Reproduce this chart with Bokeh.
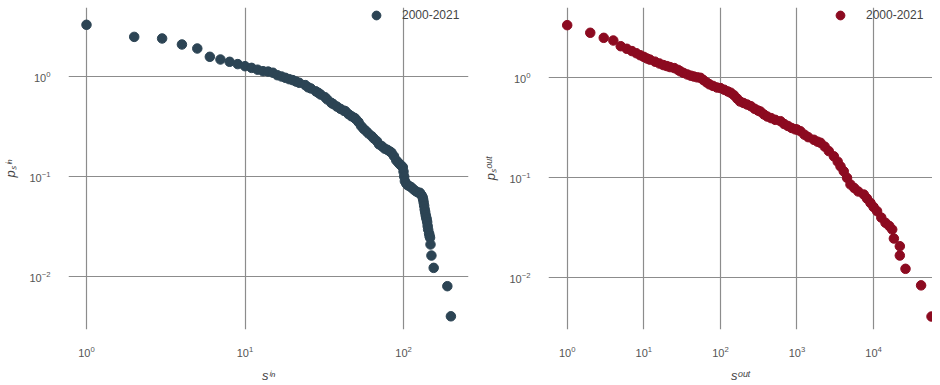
from bokeh.plotting import figure
from bokeh.layouts import row
from bokeh.models import Range1d, Legend
from bokeh.embed import file_html
from bokeh.resources import INLINE

# ---- data ----
s_in = [1, 2, 3, 4, 5, 6, 7, 8, 9, 10, 11, 12, 13, 14, 15, 16, 17, 18, 19, 20,
        21, 22, 24, 25, 26, 28, 29, 30, 32, 33, 35, 36, 38, 40, 42, 43, 45, 47,
        49, 50, 52, 54, 56, 58, 60, 63, 65, 68, 70, 73, 76, 79, 82, 84, 87, 90,
        93, 95, 97, 99, 100, 101, 102, 104, 106, 109, 112, 116, 120, 124, 127,
        130, 132, 133, 134, 135, 136, 137, 138, 139, 140, 141, 142, 143, 145,
        146, 147, 148, 150, 155, 189, 199]
p_in = [3.29, 2.49, 2.40, 2.09, 1.905, 1.574, 1.479, 1.403, 1.33, 1.268, 1.22,
        1.17, 1.13, 1.12, 1.09, 1.03, 1.00, 0.97, 0.94, 0.92, 0.89, 0.865, 0.82,
        0.78, 0.76, 0.71, 0.687, 0.66, 0.62, 0.59, 0.546, 0.53, 0.50, 0.475,
        0.455, 0.45, 0.42, 0.40, 0.386, 0.375, 0.35, 0.32, 0.30, 0.285, 0.27,
        0.253, 0.24, 0.225, 0.21, 0.201, 0.19, 0.185, 0.178, 0.173, 0.16, 0.145,
        0.137, 0.132, 0.128, 0.124, 0.112, 0.100, 0.090, 0.085, 0.082, 0.080,
        0.078, 0.074, 0.071, 0.069, 0.0687, 0.065, 0.062, 0.0589, 0.055, 0.051,
        0.0468, 0.044, 0.041, 0.039, 0.0372, 0.035, 0.032, 0.0295, 0.027,
        0.0255, 0.0244, 0.0209, 0.0162, 0.0122, 0.0080, 0.0040]

s_out = [1, 2, 3, 4, 5, 6, 7, 8, 9, 10, 11, 12, 14, 16, 18, 20, 22, 25, 28, 30,
         33, 37, 41, 45, 50, 55, 60, 66, 72, 80, 90, 100, 112, 125, 136, 150,
         165, 180, 200, 224, 250, 280, 310, 333, 370, 410, 460, 520, 609, 680,
         760, 850, 950, 1000, 1110, 1250, 1400, 1660, 1850, 2030, 2300, 2600,
         3030, 3400, 3700, 4080, 4500, 4990, 5600, 6300, 7460, 8200, 9110,
         10000, 11100, 12600, 14300, 16000, 17500, 18400, 22000, 22000, 26100,
         41700, 57000]
p_out = [3.36, 2.82, 2.51, 2.36, 2.07, 1.95, 1.85, 1.76, 1.68, 1.62, 1.56, 1.52,
         1.45, 1.39, 1.34, 1.31, 1.28, 1.25, 1.20, 1.16, 1.12, 1.08, 1.05, 1.03,
         1.01, 1.00, 0.95, 0.90, 0.86, 0.83, 0.80, 0.79, 0.76, 0.73, 0.71, 0.67,
         0.62, 0.58, 0.56, 0.54, 0.52, 0.49, 0.47, 0.46, 0.43, 0.41, 0.395,
         0.38, 0.368, 0.345, 0.33, 0.315, 0.305, 0.304, 0.292, 0.27, 0.255,
         0.24, 0.23, 0.224, 0.205, 0.185, 0.164, 0.145, 0.13, 0.116, 0.10,
         0.0857, 0.079, 0.073, 0.068, 0.062, 0.056, 0.051, 0.0464, 0.040,
         0.0355, 0.033, 0.0304, 0.0247, 0.0207, 0.0167, 0.0123, 0.0084, 0.0041]

x_ticks_in = [1, 10, 100]
x_ticks_out = [1, 10, 100, 1000, 10000]
y_ticks = [0.01, 0.1, 1]
legend_label = "2000-2021"

FONT = "Liberation Sans"


def style(p, xticks, xlabel, ylabel):
    p.outline_line_color = None
    p.background_fill_color = "white"
    for ax in (p.xaxis[0], p.yaxis[0]):
        ax.axis_line_color = None
        ax.major_tick_line_color = None
        ax.minor_tick_line_color = None
        ax.major_label_text_font = FONT
        ax.major_label_text_font_size = "11px"
        ax.major_label_text_color = "#555555"
        ax.axis_label_text_font = FONT
        ax.axis_label_text_font_size = "13px"
        ax.axis_label_text_font_style = "italic"
        ax.axis_label_text_color = "#444444"
    p.xaxis.ticker = xticks
    p.yaxis.ticker = y_ticks
    p.xaxis.major_label_standoff = 10
    p.yaxis.major_label_standoff = 12
    p.xaxis.axis_label_standoff = 8
    p.yaxis.axis_label_standoff = 8
    p.xaxis.axis_label = xlabel
    p.yaxis.axis_label = ylabel
    p.grid.grid_line_color = "#8c8c8c"
    p.grid.grid_line_width = 1.2
    p.grid.minor_grid_line_color = None


def add_legend(p, r, x0):
    lg = Legend(items=[(legend_label, [r])], location=(x0, 303),
                border_line_alpha=0, background_fill_alpha=0,
                label_text_font=FONT, label_text_font_size="12px",
                label_text_color="#444444", glyph_width=24, glyph_height=22,
                label_standoff=14, padding=0, margin=0, spacing=0)
    p.add_layout(lg)


p1 = figure(x_axis_type="log", y_axis_type="log",
            x_range=Range1d(0.770, 257), y_range=Range1d(10 ** -2.53, 10 ** 0.69),
            frame_width=400, frame_height=322,
            min_border_left=59, min_border_right=12, min_border_top=7,
            min_border_bottom=47,
            output_backend="svg", toolbar_location=None)
r1 = p1.scatter(s_in, p_in, size=9.5, color="#2c4454", line_color="#2c4454")
style(p1, x_ticks_in, "sⁱⁿ", "pₛⁱⁿ")
add_legend(p1, r1, 296)

p2 = figure(x_axis_type="log", y_axis_type="log",
            x_range=Range1d(0.570, 58750), y_range=Range1d(10 ** -2.517, 10 ** 0.703),
            frame_width=384, frame_height=322,
            min_border_left=60, min_border_right=0, min_border_top=7,
            min_border_bottom=47,
            output_backend="svg", toolbar_location=None)
r2 = p2.scatter(s_out, p_out, size=9.5, color="#8c0a20", line_color="#8c0a20")
style(p2, x_ticks_out, "sᵒᵘᵗ", "pₛᵒᵘᵗ")
add_legend(p2, r2, 280)

layout = row(p1, p2, spacing=0)
open("out.html", "w").write(file_html(layout, INLINE))
